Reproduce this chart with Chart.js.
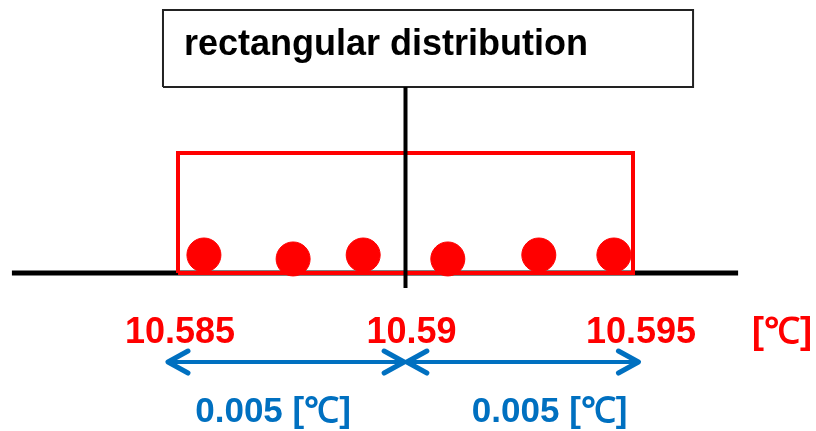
<!DOCTYPE html>
<html>
<head>
<meta charset="utf-8">
<script src="https://cdn.jsdelivr.net/npm/chart.js@4.4.1/dist/chart.umd.min.js"></script>
<style>
  html, body { margin: 0; padding: 0; background: #fff; }
  canvas { display: block; }
</style>
</head>
<body>
<canvas id="chart" width="816" height="431"></canvas>
<script>
// values in °C on x, relative height on y
const tickValues = [10.585, 10.59, 10.595];
const tickLabels = ['10.585', '10.59', '10.595'];
const unitLabel = '[℃]';

const samplesX = [10.58557, 10.58753, 10.58907, 10.59093, 10.59293, 10.59458];
const samplesY = [0.15, 0.117, 0.15, 0.117, 0.15, 0.15];

const distX = [10.585, 10.585, 10.595, 10.595, 10.585];
const distY = [0, 1, 1, 0, 0];

const axisX = [10.58135, 10.59731];
const axisY = [0, 0];
const centerX = [10.59, 10.59];
const centerY = [-0.125, 1.55];

const titleText = 'rectangular distribution';
const titleBoxX = [10.58467, 10.58467, 10.59632, 10.59632, 10.58467];
const titleBoxY = [1.55, 2.192, 2.192, 1.55, 1.55];

const spanStart = [10.58478, 10.59003];
const spanEnd = [10.58997, 10.59512];
const spanLevel = -0.742;
const spanLabels = ['0.005 [℃]', '0.005 [℃]'];

const RED = '#ff0000';
const BLUE = '#0070c0';
const FONT = "'Liberation Sans', Arial, sans-serif";

const pts = (xs, ys) => xs.map((x, i) => ({ x, y: ys[i] }));

const lineSet = (data, color, width, order) => ({
  data, showLine: true, borderColor: color, borderWidth: width,
  pointRadius: 0, fill: false, tension: 0, order,
  borderCapStyle: 'butt', borderJoinStyle: 'miter'
});

const datasets = [
  {
    data: pts(samplesX, samplesY), backgroundColor: RED, borderColor: RED,
    borderWidth: 1, pointRadius: 17, pointHoverRadius: 17, order: 0
  },
  lineSet(pts(centerX, centerY), '#000', 4, 1),
  lineSet(pts(titleBoxX, titleBoxY), '#222', 2, 1),
  lineSet(pts(distX, distY), RED, 4, 2),
  lineSet(pts(axisX, axisY), '#000', 5, 3)
];
spanStart.forEach((s, i) => {
  const ds = lineSet([{ x: s, y: spanLevel }, { x: spanEnd[i], y: spanLevel }], BLUE, 4, 1);
  ds.span = i;
  datasets.push(ds);
});

const labelsPlugin = {
  id: 'labels',
  afterDatasetsDraw(chart) {
    const { ctx, scales: { x, y } } = chart;
    ctx.save();

    // arrow heads
    ctx.strokeStyle = BLUE;
    ctx.lineWidth = 5;
    ctx.lineCap = 'round';
    ctx.lineJoin = 'round';
    chart.data.datasets.forEach((ds, di) => {
      if (ds.span === undefined) return;
      const meta = chart.getDatasetMeta(di).data;
      const a = meta[0], b = meta[1];
      [[a, 1], [b, -1]].forEach(([p, dir]) => {
        ctx.beginPath();
        ctx.moveTo(p.x + dir * 20, p.y - 11);
        ctx.lineTo(p.x, p.y);
        ctx.lineTo(p.x + dir * 20, p.y + 11);
        ctx.stroke();
      });
    });

    // title
    ctx.fillStyle = '#000';
    ctx.font = `bold 36px ${FONT}`;
    ctx.textAlign = 'left';
    ctx.textBaseline = 'alphabetic';
    ctx.fillText(titleText, x.getPixelForValue(titleBoxX[0]) + 21, y.getPixelForValue(titleBoxY[1]) + 45);

    // tick labels
    ctx.fillStyle = RED;
    ctx.font = `bold 36px ${FONT}`;
    ctx.textAlign = 'center';
    const base = y.getPixelForValue(0) + 70;
    const nudge = [2, 6, 8];
    tickValues.forEach((v, i) => {
      ctx.fillText(tickLabels[i], x.getPixelForValue(v) + nudge[i], base);
    });
    ctx.fillText(unitLabel, 782, base);

    // span labels
    ctx.fillStyle = BLUE;
    ctx.font = `bold 35px ${FONT}`;
    const shift = [-13, 27];
    spanStart.forEach((s, i) => {
      const mid = (x.getPixelForValue(s) + x.getPixelForValue(spanEnd[i])) / 2;
      ctx.fillText(spanLabels[i], mid + shift[i], y.getPixelForValue(spanLevel) + 60);
    });

    ctx.restore();
  }
};

new Chart(document.getElementById('chart'), {
  type: 'scatter',
  data: { datasets },
  options: {
    responsive: false,
    animation: false,
    devicePixelRatio: 1,
    layout: { padding: 0, autoPadding: false },
    plugins: { legend: { display: false }, tooltip: { enabled: false } },
    scales: {
      x: { type: 'linear', display: false, min: 10.581088, max: 10.599022 },
      y: { type: 'linear', display: false, min: -1.3167, max: 2.275 }
    }
  },
  plugins: [labelsPlugin]
});
</script>
</body>
</html>
